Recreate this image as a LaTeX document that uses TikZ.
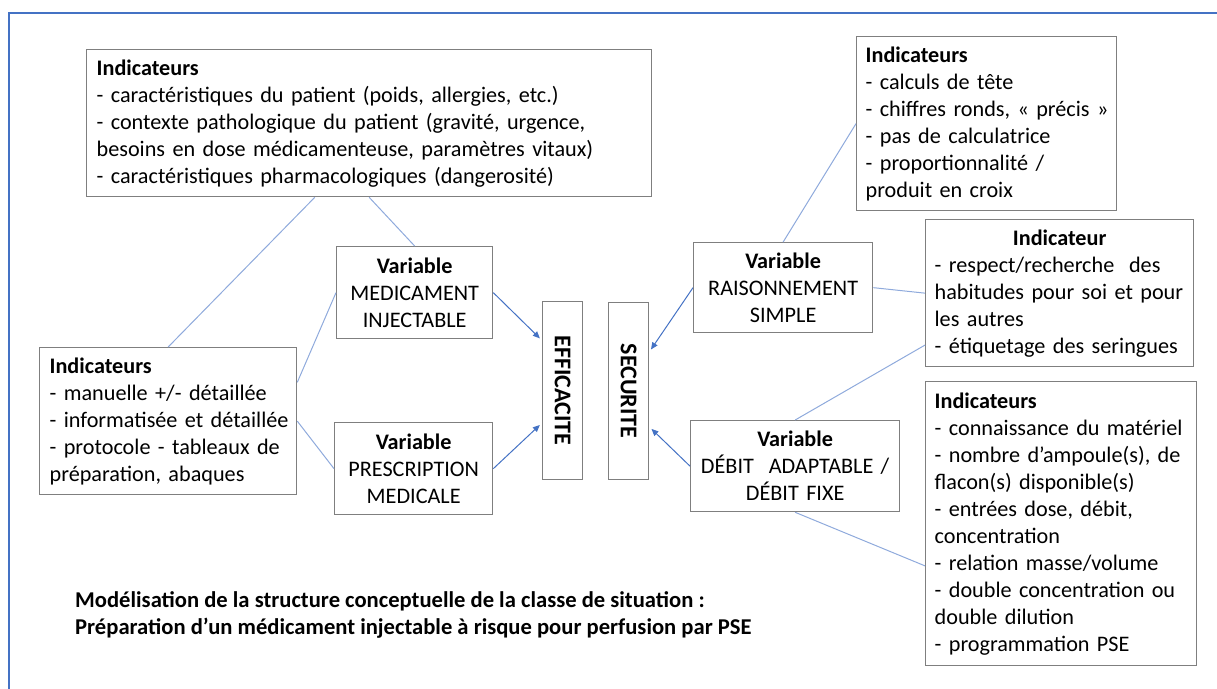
\documentclass[tikz,border=0pt]{standalone}
\usepackage{fontspec}
\setmainfont{Carlito}
\usepackage{graphicx}
\usetikzlibrary{arrows.meta,calc}
\definecolor{frameblue}{HTML}{4472C4}
\definecolor{linkblue}{HTML}{8FAADC}
\definecolor{arrowblue}{HTML}{4472C4}
\definecolor{boxgray}{HTML}{7F7F7F}
\newcommand{\myvfont}{\fontsize{24}{28}\selectfont\bfseries}
\newcommand{\tline}[1]{\mbox{#1}}
\tikzset{
  txt/.style={font=\fontsize{22.2}{27}\selectfont},
  captxt/.style={font=\fontsize{22.6}{27.5}\selectfont\bfseries},
  box/.style={draw=boxgray, line width=1.3pt, anchor=north west, inner xsep=10pt, inner ysep=0pt, txt, align=left},
  varbox/.style={box, inner xsep=4pt, align=center},
  vertbox/.style={draw=boxgray, line width=1.3pt, anchor=north west, inner sep=0pt, minimum width=40pt},
  link/.style={draw=linkblue, line width=1pt},
  arr/.style={draw=arrowblue, line width=1pt, shorten >=3pt, -{Triangle[length=7pt,width=6pt]}},
}
\begin{document}
\begin{tikzpicture}[x=1pt,y=-1pt]
\useasboundingbox (0,0) rectangle (1217,688);
\draw[frameblue, line width=2pt] (1222,13) -- (9,13) -- (9,693);

\node[box, text width=545pt, minimum height=147pt] (A) at (86,49)
 {\tline{\textbf{Indicateurs}}\\\tline{- caractéristiques du patient (poids, allergies, etc.)}\\\tline{- contexte pathologique du patient (gravité, urgence,}\\\tline{besoins en dose médicamenteuse, paramètres vitaux)}\\\tline{- caractéristiques pharmacologiques (dangerosité)}};

\node[box, text width=237pt, minimum height=147pt] (IndL) at (39,347)
 {\tline{\textbf{Indicateurs}}\\\tline{- manuelle +/- détaillée}\\\tline{- informatisée et détaillée}\\\tline{- protocole - tableaux de}\\\tline{préparation, abaques}};

\node[varbox, text width=148pt, minimum height=92pt] (MED) at (336,246)
 {\textbf{Variable}\\MEDICAMENT\\INJECTABLE};

\node[varbox, text width=150pt, minimum height=92pt] (PRES) at (334,422)
 {\textbf{Variable}\\PRESCRIPTION\\MEDICALE};

\node[vertbox, minimum height=178pt] (EFF) at (542,301)
 {\rotatebox{-90}{\myvfont EFFICACITE}};

\node[vertbox, minimum height=177pt] (SEC) at (608,302)
 {\rotatebox{-90}{\myvfont SECURITE}};

\node[varbox, text width=171pt, minimum height=90pt] (RAIS) at (693,242)
 {\textbf{Variable}\\RAISONNEMENT\\SIMPLE};

\node[varbox, text width=201pt, minimum height=91pt] (DEBIT) at (690,420)
 {\textbf{Variable}\\\tline{DÉBIT\ \ ADAPTABLE /}\\DÉBIT FIXE};

\node[box, inner xsep=9pt, text width=242pt, minimum height=174pt] (IndTR) at (856,36)
 {\tline{\textbf{Indicateurs}}\\\tline{- calculs de tête}\\\tline{- chiffres ronds, « précis »}\\\tline{- pas de calculatrice}\\\tline{- proportionnalité /}\\\tline{produit en croix}};

\node[box, inner xsep=9pt, text width=250pt, minimum height=147pt] (IndC) at (925,219)
 {\makebox[\linewidth][c]{\textbf{Indicateur}}\\\tline{- respect/recherche\ \ des}\\\tline{habitudes pour soi et pour}\\\tline{les autres}\\\tline{- étiquetage des seringues}};

\node[box, inner xsep=9pt, text width=253pt, minimum height=284pt] (IndBR) at (925,381)
 {\tline{\textbf{Indicateurs}}\\\tline{- connaissance du matériel}\\\tline{- nombre d’ampoule(s), de}\\\tline{flacon(s) disponible(s)}\\\tline{- entrées dose, débit,}\\\tline{concentration}\\\tline{- relation masse/volume}\\\tline{- double concentration ou}\\\tline{double dilution}\\\tline{- programmation PSE}};

\node[captxt, anchor=north west, align=left, inner sep=0pt] (cap) at (75,591)
 {Modélisation de la structure conceptuelle de la classe de situation :\\Préparation d’un médicament injectable à risque pour perfusion par PSE};

\draw[link] ($(A.south west)!0.404!(A.south east)$) -- (IndL.north);
\draw[link] (A.south) -- (MED.north);
\draw[link] (MED.west) -- ($(IndL.north east)!0.238!(IndL.south east)$);
\draw[link] (IndL.east) -- (PRES.west);
\draw[arr] (MED.east) -- ($(EFF.north west)!0.22!(EFF.south west)$);
\draw[arr] (PRES.east) -- ($(EFF.north west)!0.68!(EFF.south west)$);
\draw[arr] (RAIS.west) -- ($(SEC.north east)!0.28!(SEC.south east)$);
\draw[arr] (DEBIT.west) -- ($(SEC.north east)!0.70!(SEC.south east)$);
\draw[link] (RAIS.north) -- (IndTR.west);
\draw[link] (RAIS.east) -- (IndC.west);
\draw[link] (DEBIT.north) -- ($(IndC.north west)!0.85!(IndC.south west)$);
\draw[link] (DEBIT.south) -- ($(IndBR.north west)!0.648!(IndBR.south west)$);
\end{tikzpicture}
\end{document}
